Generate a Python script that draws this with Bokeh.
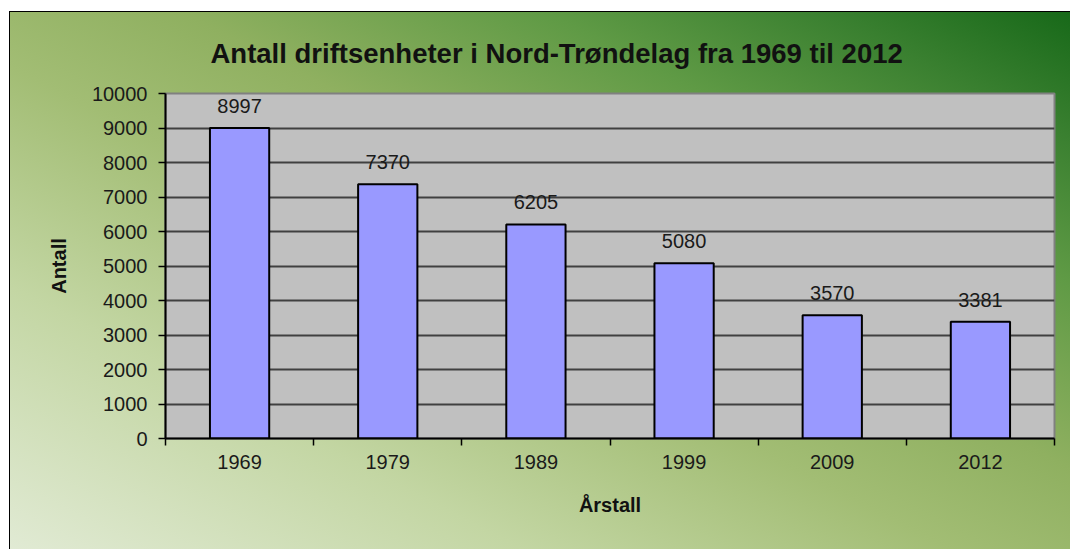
from bokeh.plotting import figure
from bokeh.models import Range1d, FixedTicker, InlineStyleSheet, Title
from bokeh.core.properties import value
from bokeh.embed import file_html
from bokeh.resources import INLINE

# ---- data ----
years = ["1969", "1979", "1989", "1999", "2009", "2012"]
antall = [8997, 7370, 6205, 5080, 3570, 3381]
y_ticks = [0, 1000, 2000, 3000, 4000, 5000, 6000, 7000, 8000, 9000, 10000]
title_text = "Antall driftsenheter i Nord-Trøndelag fra 1969 til 2012"
x_title = "Årstall"
y_title = "Antall"

FONT = "Liberation Sans"
n = len(years)
centers = [i + 0.5 for i in range(n)]
bounds = [float(i) for i in range(n + 1)]

p = figure(width=1070, height=549, output_backend="svg", toolbar_location=None,
           x_range=Range1d(0, n), y_range=Range1d(y_ticks[0], y_ticks[-1]),
           min_border_left=165, min_border_right=16, min_border_top=93, min_border_bottom=111,
           title=None)

css = """
:host {
  background:
    linear-gradient(#000, #000) 9px 11px / 100% 1px no-repeat,
    linear-gradient(#000, #000) 9px 11px / 1px 100% no-repeat,
    linear-gradient(to top right, #e2ebd6 0%, #c3d6a3 25%, #a2bd74 45%, #8fb060 58%, #5f9a45 75%, #3a8030 88%, #166818 100%) 9px 11px / 100% 100% no-repeat;
}
"""
p.stylesheets = [InlineStyleSheet(css=css)]
p.border_fill_color = None
p.background_fill_color = "#C0C0C0"
p.outline_line_color = "#808080"
p.outline_line_width = 2

t = Title(text=title_text, align="left", offset=45, text_font=FONT, text_font_size="27.5px",
          text_font_style="bold", text_color="#111111", standoff=49)
p.add_layout(t, "above")

p.vbar(x=centers, top=antall, width=0.4, fill_color="#9999FF", line_color="black", line_width=2)

p.text(x=centers, y=antall, text=[str(v) for v in antall], text_align="center",
       text_baseline="alphabetic", y_offset=-22, text_font=value(FONT), text_font_size="20px",
       text_color="#1a1a1a")

# x axis
xa = p.xaxis[0]
xa.ticker = FixedTicker(ticks=centers, minor_ticks=bounds)
xa.major_label_overrides = {c: y for c, y in zip(centers, years)}
xa.major_tick_out = 0
xa.major_tick_in = 0
xa.minor_tick_out = 7
xa.minor_tick_in = 0
xa.minor_tick_line_color = "black"
xa.minor_tick_line_width = 1.5
xa.axis_line_color = "black"
xa.axis_line_width = 2
xa.major_label_text_font = FONT
xa.major_label_text_font_size = "20px"
xa.major_label_text_color = "#1a1a1a"
xa.major_label_standoff = 9
xa.axis_label = x_title
xa.axis_label_text_font = FONT
xa.axis_label_text_font_size = "20px"
xa.axis_label_text_font_style = "bold"
xa.axis_label_text_color = "#111111"
xa.axis_label_standoff = 22

# y axis
ya = p.yaxis[0]
ya.ticker = FixedTicker(ticks=y_ticks)
ya.major_tick_out = 7
ya.major_tick_in = 0
ya.major_tick_line_color = "black"
ya.major_tick_line_width = 1.5
ya.minor_tick_line_color = None
ya.axis_line_color = "black"
ya.axis_line_width = 2
ya.major_label_text_font = FONT
ya.major_label_text_font_size = "20px"
ya.major_label_text_color = "#1a1a1a"
ya.major_label_standoff = 11
ya.axis_label = y_title
ya.axis_label_text_font = FONT
ya.axis_label_text_font_size = "20px"
ya.axis_label_text_font_style = "bold"
ya.axis_label_text_color = "#111111"
ya.axis_label_standoff = 19

p.xgrid.grid_line_color = None
p.ygrid.ticker = FixedTicker(ticks=y_ticks[1:-1])
p.ygrid.grid_line_color = "#404040"
p.ygrid.grid_line_width = 2

open("out.html", "w").write(file_html(p, INLINE))
